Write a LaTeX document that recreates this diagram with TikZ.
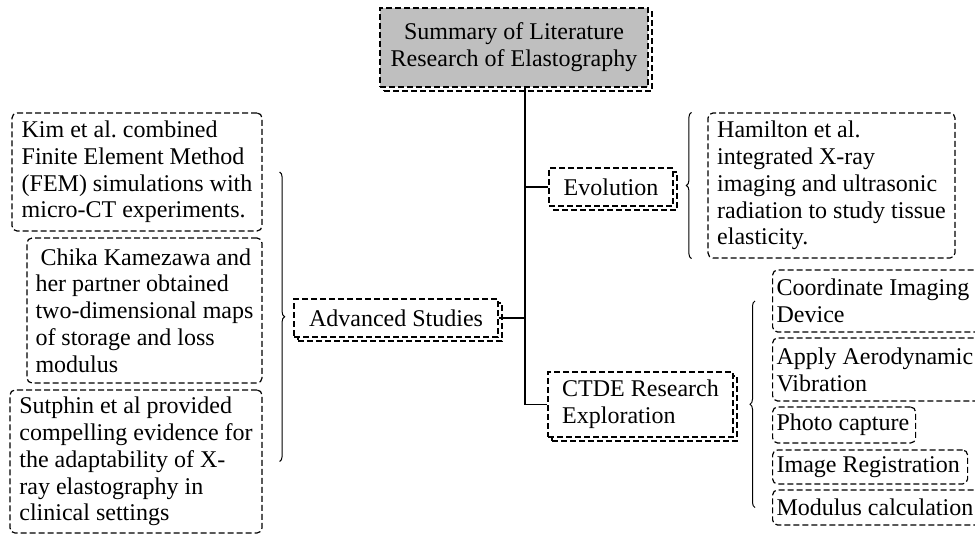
\documentclass[tikz,border=0pt]{standalone}
\usepackage{fontspec}
\setmainfont{Liberation Serif}
\usetikzlibrary{positioning}
\usetikzlibrary{calc}
\usetikzlibrary{shadows}
\usetikzlibrary{decorations.pathreplacing}
\frenchspacing

\tikzset{
    box/.style={draw, dash pattern=on 3pt off 1.5pt, line width=0.6pt, fill=white, inner xsep=2pt, inner ysep=1pt, align=flush left, font=\fontsize{12}{13.4}\selectfont},
    topic/.style={box, copy shadow={shadow xshift=2pt, shadow yshift=-2pt, draw=black, fill=white, dash pattern=on 3pt off 1.5pt, line width=0.6pt}},
    note/.style={box, rounded corners=2.5pt},
    link/.style={line width=0.6pt},
    bracket/.style={line width=0.5pt, decorate, decoration={brace, amplitude=2.5pt}},
}

\begin{document}
\begin{tikzpicture}[x=0.5pt, y=-0.5pt]

    \useasboundingbox (0,0) rectangle (975,535);

    % Draw topics
    \node[topic, fill=gray!50, minimum width=134pt, minimum height=39.5pt, align=center] (summary) at (514,47.5) {Summary of Literature\\Research of Elastography};
    \node[topic, minimum width=62pt, minimum height=19pt] (evo) at (611,187) {Evolution};
    \node[topic, minimum width=102pt, minimum height=19pt] (adv) at (396,318) {Advanced Studies};
    \node[topic, minimum width=92.5pt, minimum height=32.5pt] (ctde) at (640.5,404.5) {CTDE Research\\Exploration};

    % Draw studies
    \node[note, minimum width=125pt, minimum height=59pt] (kim) at (137,172) {Kim et al. combined\\Finite Element Method\\(FEM) simulations with\\micro-CT experiments.};
    \node[note, minimum width=117.5pt, minimum height=72.5pt] (chika) at (144.5,310.5) {\hspace*{2.5pt}Chika Kamezawa and\\her partner obtained\\two-dimensional maps\\of storage and loss\\modulus};
    \node[note, minimum width=126pt, minimum height=71.5pt] (sut) at (136,461.5) {Sutphin et al provided\\compelling evidence for\\the adaptability of X-\\ray elastography in\\clinical settings};
    \node[note, minimum width=123.5pt, minimum height=72.5pt] (ham) at (831.5,185.5) {Hamilton et al.\\integrated X-ray\\imaging and ultrasonic\\radiation to study tissue\\elasticity.};

    % Draw steps
    \node[note, anchor=west, text width=103.5pt, minimum height=31pt] (coord) at (772,301) {Coordinate Imaging\\Device};
    \node[note, anchor=west, text width=103.5pt, minimum height=31.5pt] (aero) at (772,369.5) {Apply Aerodynamic\\Vibration};
    \node[note, anchor=west, text width=67.5pt, minimum height=18pt] (photo) at (772,425) {Photo capture};
    \node[note, anchor=west, text width=93.5pt, minimum height=17pt] (reg) at (772,467) {Image Registration};
    \node[note, anchor=west, text width=103.5pt, minimum height=17.5pt] (mod) at (772,507.5) {Modulus calculation};

    % Draw links
    \coordinate (trunk) at (525,0);
    \draw[link] (summary.south -| trunk) |- (evo.west);
    \draw[link] (summary.south -| trunk) |- (ctde.west);
    \draw[link] (adv.east) -- (adv.east -| trunk);

    % Draw braces
    \draw[bracket] ($(kim.east)+(17,0)$) -- ($(sut.east)+(17,0)$);
    \draw[bracket] ($(ham.south west)+(-16,0)$) -- ($(ham.north west)+(-16,0)$);
    \draw[bracket] ($(mod.west)+(-17,0)$) -- ($(coord.west)+(-17,0)$);

\end{tikzpicture}
\end{document}
